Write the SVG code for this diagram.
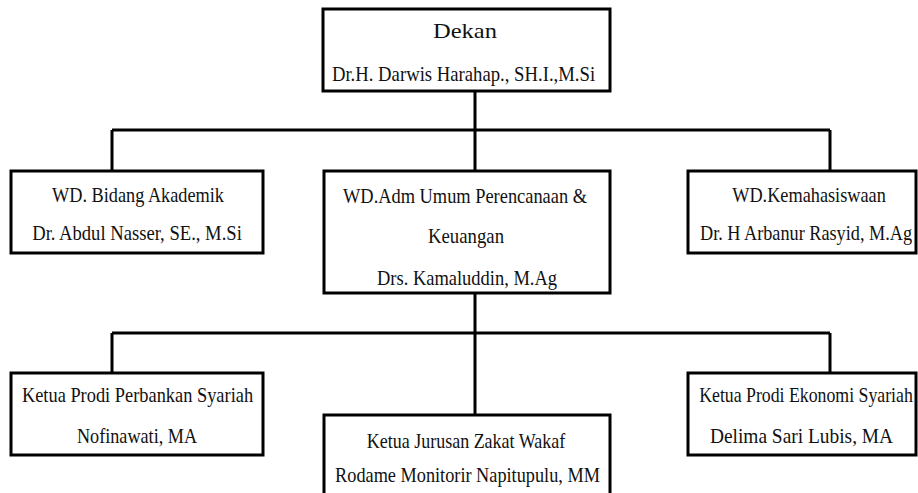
<svg xmlns="http://www.w3.org/2000/svg" width="918" height="493" viewBox="0 0 918 493">
<style>
.box{fill:#fff;stroke:#000;stroke-width:3}
.ln{fill:none;stroke:#000;stroke-width:3}
text{font-family:"Liberation Serif","Times New Roman",serif;font-size:22px;fill:#111;text-anchor:middle}
</style>
<rect width="918" height="493" fill="#fff"/>
<g id="connectors">
<path class="ln" d="M475 91V130M112 130H830M112 130V171M475 130V171M830 130V171"/>
<path class="ln" d="M475 293V333M112 333H830M112 333V373M475 333V415M830 333V373"/>
</g>
<g id="dekan">
<rect class="box" x="323" y="9" width="287" height="82"/>
<text transform="translate(465 38) scale(0.8 1)" textLength="80" lengthAdjust="spacingAndGlyphs">Dekan</text>
<text transform="translate(463.5 81) scale(0.8 1)" textLength="329" lengthAdjust="spacingAndGlyphs">Dr.H. Darwis Harahap., SH.I.,M.Si</text>
</g>
<g id="wd-akademik">
<rect class="box" x="11" y="171" width="252" height="82"/>
<text transform="translate(138 202) scale(0.8 1)" textLength="215" lengthAdjust="spacingAndGlyphs">WD. Bidang Akademik</text>
<text transform="translate(137 240) scale(0.8 1)" textLength="262" lengthAdjust="spacingAndGlyphs">Dr. Abdul Nasser, SE., M.Si</text>
</g>
<g id="wd-adm">
<rect class="box" x="324" y="171" width="286" height="122"/>
<text transform="translate(465 203) scale(0.8 1)" textLength="305" lengthAdjust="spacingAndGlyphs">WD.Adm Umum Perencanaan &amp;</text>
<text transform="translate(466 243) scale(0.8 1)" textLength="95" lengthAdjust="spacingAndGlyphs">Keuangan</text>
<text transform="translate(467 285) scale(0.8 1)" textLength="225" lengthAdjust="spacingAndGlyphs">Drs. Kamaluddin, M.Ag</text>
</g>
<g id="wd-kemahasiswaan">
<rect class="box" x="688" y="171" width="228" height="82"/>
<text transform="translate(809 202) scale(0.8 1)" textLength="192" lengthAdjust="spacingAndGlyphs">WD.Kemahasiswaan</text>
<text transform="translate(806 240) scale(0.8 1)" textLength="265" lengthAdjust="spacingAndGlyphs">Dr. H Arbanur Rasyid, M.Ag</text>
</g>
<g id="prodi-perbankan">
<rect class="box" x="11" y="373" width="252" height="82"/>
<text transform="translate(137.5 402) scale(0.8 1)" textLength="289" lengthAdjust="spacingAndGlyphs">Ketua Prodi Perbankan Syariah</text>
<text transform="translate(137 443) scale(0.8 1)" textLength="150" lengthAdjust="spacingAndGlyphs">Nofinawati, MA</text>
</g>
<g id="jurusan-zakat">
<rect class="box" x="324" y="415" width="286" height="90"/>
<text transform="translate(466 448) scale(0.8 1)" textLength="248" lengthAdjust="spacingAndGlyphs">Ketua Jurusan Zakat Wakaf</text>
<text transform="translate(467.5 482) scale(0.8 1)" textLength="331" lengthAdjust="spacingAndGlyphs">Rodame Monitorir Napitupulu, MM</text>
</g>
<g id="prodi-ekonomi">
<rect class="box" x="688" y="373" width="228" height="82"/>
<text transform="translate(806 402) scale(0.8 1)" textLength="267" lengthAdjust="spacingAndGlyphs">Ketua Prodi Ekonomi Syariah</text>
<text transform="translate(801.5 443) scale(0.8 1)" textLength="229" lengthAdjust="spacingAndGlyphs">Delima Sari Lubis, MA</text>
</g>
</svg>
